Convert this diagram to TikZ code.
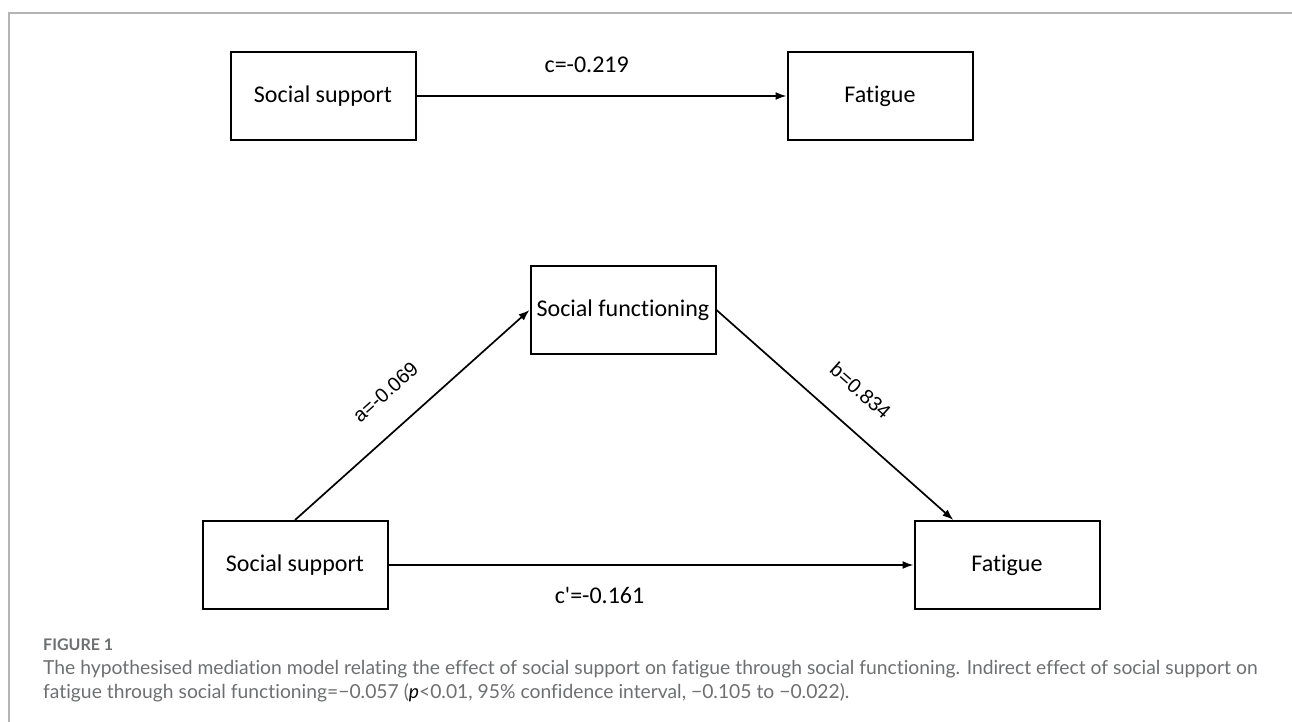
\documentclass[tikz,border=0pt]{standalone}
\usepackage{fontspec}
\setmainfont{Carlito}[Ligatures=NoCommon]
\newfontfamily\labelfont{Liberation Sans}
\newfontfamily\capfont{Lato}[Ligatures=NoCommon]
\usetikzlibrary{arrows.meta}
\definecolor{capgray}{RGB}{110,111,113}
\definecolor{rulegray}{RGB}{180,180,180}
\tikzstyle{var}=[rectangle,draw=black,line width=2pt,minimum width=185pt,minimum height=88pt,font=\fontsize{24}{28}\selectfont]
\tikzstyle{effect}=[-{Latex[length=11pt,width=8pt]},line width=1.7pt]
\tikzstyle{coef}=[inner sep=0pt,font=\fontsize{24}{28}\selectfont]
\tikzstyle{slopecoef}=[sloped,above=27pt,inner sep=0pt,font=\labelfont\fontsize{20}{24}\selectfont]
\tikzstyle{caption}=[anchor=base west,inner sep=0pt,text=capgray]

\begin{document}
\begin{tikzpicture}[x=1pt,y=-1pt]
      \useasboundingbox (0,0) rectangle (1292,722);
      \draw[rulegray,line width=1.5pt] (9,722) -- (9,13) -- (1292,13);
      % total effect
      \node[var] at (323,96) (ss1) {Social support};
      \node[var] at (880,96) (fat1) {Fatigue};
      \draw[effect] (ss1.east) -- node[coef,pos=0.46,yshift=31pt] {c=-0.219} (fat1.west);
      % mediation
      \node[var] at (623,310) (sf) {Social functioning};
      \node[var] at (295,565) (ss2) {Social support};
      \node[var] at (1007,565) (fat2) {Fatigue};
      \draw[effect] (ss2.north) -- node[slopecoef,pos=0.485] {a=-0.069} (sf.west);
      \draw[effect] (sf.east) -- node[slopecoef,pos=0.51] {b=0.834} (fat2.140);
      \draw[effect] (ss2.east) -- node[coef,pos=0.402,yshift=-30pt] {c\textquotesingle=-0.161} (fat2.west);
      % caption
      \node[caption,font=\capfont\bfseries\fontsize{16}{18}\selectfont] at (43,650) (fig) {FIGURE 1};
      \node[caption,font=\capfont\fontsize{19.3}{22}\selectfont] at (43,674) (cap1) {The hypothesised mediation model relating the effect of social support on fatigue through social functioning. Indirect effect of social support on};
      \node[caption,font=\capfont\fontsize{19.3}{22}\selectfont] at (43,698) (cap2) {fatigue through social functioning=−0.057 ({\color{black}\textit{p}}<0.01, 95\% confidence interval, −0.105 to −0.022).};
    \end{tikzpicture}
\end{document}
